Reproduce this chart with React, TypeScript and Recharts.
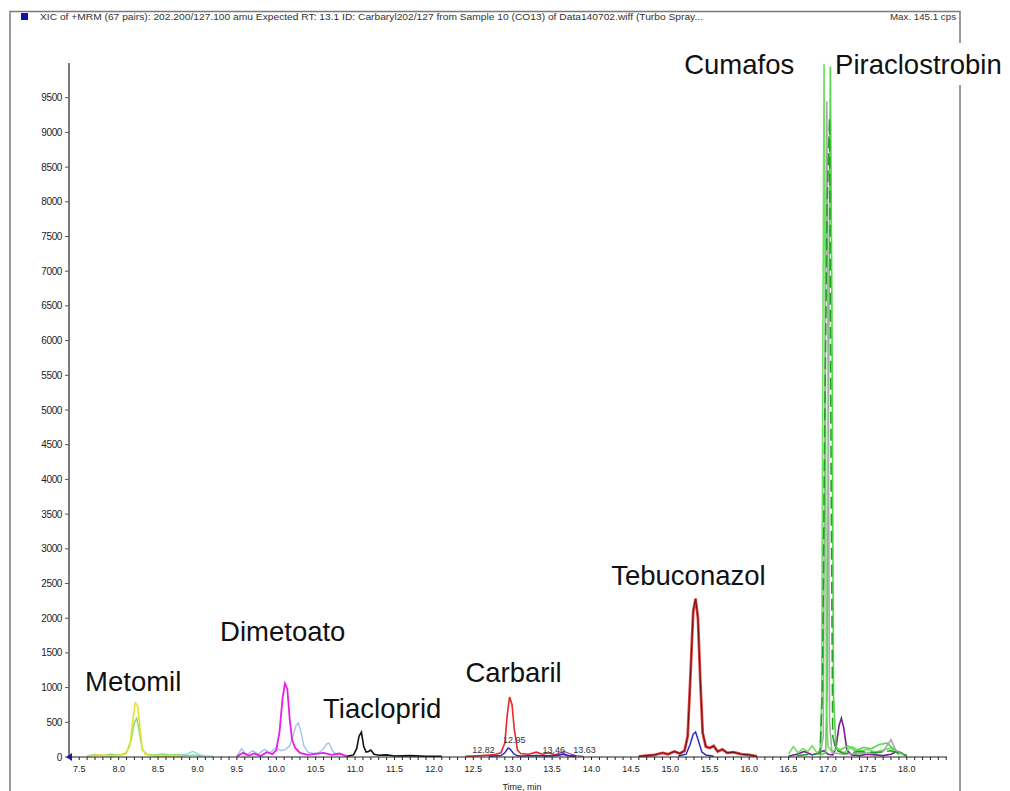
import React from "react";
import { LineChart, Line, XAxis, YAxis, ReferenceDot } from "recharts";

const FONT = '"Liberation Sans", Arial, sans-serif';

// ---- axis ticks ----
const yTicks = [0, 500, 1000, 1500, 2000, 2500, 3000, 3500, 4000, 4500, 5000, 5500, 6000, 6500, 7000, 7500, 8000, 8500, 9000, 9500];
const xTickLabels = [7.5, 8.0, 8.5, 9.0, 9.5, 10.0, 10.5, 11.0, 11.5, 12.0, 12.5, 13.0, 13.5, 14.0, 14.5, 15.0, 15.5, 16.0, 16.5, 17.0, 17.5, 18.0];
const xMinorTicks = Array.from({ length: 112 }, (_, i) => Math.round((7.4 + i * 0.1) * 10) / 10);

// ---- traces (time, min / intensity, cps) ----
const metomilGreenT = [7.6, 7.7, 7.8, 7.9, 8.0, 8.1, 8.16, 8.2, 8.23, 8.26, 8.3, 8.36, 8.45, 8.55, 8.65, 8.75, 8.85, 8.95, 9.05];
const metomilGreenV = [15, 35, 20, 40, 25, 60, 250, 500, 560, 380, 100, 40, 30, 45, 25, 35, 20, 30, 10];
const metomilYellowT = [7.6, 7.75, 7.9, 8.0, 8.08, 8.14, 8.18, 8.21, 8.24, 8.27, 8.3, 8.34, 8.4, 8.5, 8.65, 8.8];
const metomilYellowV = [10, 30, 15, 25, 40, 150, 520, 780, 740, 420, 120, 40, 25, 15, 20, 10];
const cyanT = [8.45, 8.55, 8.62, 8.7, 8.8, 8.87, 8.94, 8.98, 9.03, 9.1, 9.2];
const cyanV = [10, 25, 40, 20, 30, 45, 80, 60, 30, 15, 10];

const dimetoatoBlueT = [9.5, 9.56, 9.62, 9.7, 9.77, 9.85, 9.92, 10.0, 10.06, 10.12, 10.17, 10.21, 10.25, 10.28, 10.31, 10.35, 10.4, 10.47, 10.54, 10.6, 10.64, 10.67, 10.71, 10.78];
const dimetoatoBlueV = [10, 120, 30, 90, 40, 110, 60, 140, 90, 110, 160, 300, 450, 490, 380, 160, 70, 50, 60, 120, 190, 200, 90, 20];
const dimetoatoT = [9.5, 9.58, 9.65, 9.72, 9.8, 9.88, 9.95, 10.0, 10.04, 10.08, 10.11, 10.14, 10.17, 10.2, 10.24, 10.3, 10.4, 10.5, 10.6, 10.7, 10.8, 10.9];
const dimetoatoV = [10, 60, 20, 50, 15, 70, 40, 100, 350, 850, 1060, 980, 550, 250, 130, 60, 30, 45, 60, 30, 50, 10];

const tiaclopridT = [10.9, 10.98, 11.02, 11.05, 11.08, 11.11, 11.14, 11.17, 11.2, 11.24, 11.3, 11.4, 11.5, 11.7, 11.9, 12.1];
const tiaclopridV = [10, 30, 120, 300, 360, 150, 70, 80, 100, 40, 25, 30, 15, 20, 10, 10];

const carbarilT = [12.4, 12.6, 12.75, 12.85, 12.9, 12.93, 12.96, 12.99, 13.02, 13.06, 13.1, 13.2, 13.3, 13.38, 13.46, 13.55, 13.63, 13.7, 13.8];
const carbarilV = [10, 20, 30, 60, 200, 600, 865, 760, 400, 100, 50, 40, 70, 40, 60, 30, 40, 20, 10];
const carbarilBlueT = [12.7, 12.85, 12.9, 12.94, 12.97, 13.01, 13.05, 13.1, 13.3, 13.5, 13.6, 13.65, 13.7, 13.8];
const carbarilBlueV = [10, 20, 60, 130, 110, 50, 20, 15, 20, 15, 30, 45, 20, 10];
const purpleSmallT = [13.4, 13.55, 13.65, 13.72, 13.8, 13.9];
const purpleSmallV = [10, 40, 80, 50, 20, 10];

const tebuconazolT = [14.6, 14.8, 14.9, 14.97, 15.05, 15.12, 15.18, 15.22, 15.26, 15.29, 15.32, 15.35, 15.38, 15.41, 15.45, 15.5, 15.55, 15.6, 15.66, 15.72, 15.8, 15.9, 16.0, 16.1];
const tebuconazolV = [10, 30, 60, 40, 80, 50, 90, 300, 1300, 2100, 2280, 2000, 1100, 350, 150, 130, 160, 80, 110, 60, 70, 40, 30, 10];
const tebuconazolBlueT = [15.1, 15.2, 15.25, 15.29, 15.32, 15.36, 15.4, 15.45, 15.55];
const tebuconazolBlueV = [15, 40, 180, 330, 360, 220, 70, 30, 10];

const cumafosT = [16.5, 16.56, 16.62, 16.68, 16.74, 16.8, 16.86, 16.9, 16.92, 16.935, 16.95, 16.965, 16.98, 17.0, 17.05, 17.12, 17.2, 17.3, 17.4, 17.5, 17.6, 17.7, 17.8, 17.9, 18.0];
const cumafosV = [40, 150, 60, 120, 80, 160, 60, 100, 800, 6000, 9990, 6500, 700, 150, 80, 120, 60, 150, 90, 110, 70, 100, 130, 60, 20];
const piraclostrobinT = [16.9, 16.97, 16.99, 17.01, 17.03, 17.05, 17.07, 17.1, 17.15, 17.25, 17.35, 17.45, 17.55, 17.65, 17.75, 17.85, 17.95];
const piraclostrobinV = [30, 60, 1000, 6000, 9950, 6500, 900, 150, 100, 160, 90, 140, 120, 180, 200, 100, 30];
const grayT = [16.9, 16.94, 16.96, 16.985, 17.0, 17.02, 17.05, 17.2, 17.5, 17.7, 17.8, 17.85, 17.9];
const grayV = [20, 300, 5000, 9450, 6000, 500, 60, 40, 60, 80, 250, 120, 30];
const darkGreenT = [16.6, 16.8, 16.9, 16.93, 16.96, 16.99, 17.02, 17.04, 17.06, 17.1, 17.2, 17.4, 17.6, 17.8, 18.0];
const darkGreenV = [20, 40, 50, 1000, 5000, 8000, 9200, 4000, 300, 100, 50, 80, 60, 90, 20];
const purpleT = [16.5, 16.6, 16.7, 16.8, 16.88, 16.95, 17.0, 17.06, 17.1, 17.14, 17.17, 17.2, 17.24, 17.3, 17.4, 17.5, 17.6, 17.7, 17.8, 17.87, 17.93, 18.0];
const purpleV = [10, 40, 80, 30, 60, 90, 40, 30, 120, 450, 560, 420, 100, 30, 20, 40, 30, 20, 40, 80, 60, 10];

// ---- annotations (anchored in data space: time, intensity) ----
const compoundNames = ["Metomil", "Dimetoato", "Tiacloprid", "Carbaril", "Tebuconazol", "Cumafos", "Piraclostrobin"];
const compoundLabelT = [7.574, 9.287, 10.594, 12.40, 14.25, 15.175, 17.09];
const compoundLabelV = [951, 1671, 562, 1081, 2478, 9841, 9841];
const rtLabels = ["12.82", "12.95", "13.46", "13.63"];
const rtLabelT = [12.63, 13.02, 13.52, 13.91];
const rtLabelV = [60, 200, 60, 60];

const zip = (ts: number[], vs: number[]) => ts.map((t, i) => ({ t, v: vs[i] }));

const traces = [
  { key: "cyan", data: zip(cyanT, cyanV), color: "#7fdede", w: 1.3 },
  { key: "metGreen", data: zip(metomilGreenT, metomilGreenV), color: "#86dc70", w: 1.4 },
  { key: "metYellow", data: zip(metomilYellowT, metomilYellowV), color: "#e2e22a", w: 1.6 },
  { key: "dimBlue", data: zip(dimetoatoBlueT, dimetoatoBlueV), color: "#a4c2ee", w: 1.4 },
  { key: "dim", data: zip(dimetoatoT, dimetoatoV), color: "#e61ee6", w: 1.8 },
  { key: "tia", data: zip(tiaclopridT, tiaclopridV), color: "#111111", w: 1.6 },
  { key: "purpleSmall", data: zip(purpleSmallT, purpleSmallV), color: "#9a3aa8", w: 1.2 },
  { key: "carb", data: zip(carbarilT, carbarilV), color: "#ee2626", w: 1.6 },
  { key: "carbBlue", data: zip(carbarilBlueT, carbarilBlueV), color: "#2a2acc", w: 1.5 },
  { key: "tebuOuter", data: zip(tebuconazolT, tebuconazolV), color: "#dc4a4a", w: 2.8 },
  { key: "tebu", data: zip(tebuconazolT, tebuconazolV), color: "#7a1010", w: 1.1 },
  { key: "tebuBlue", data: zip(tebuconazolBlueT, tebuconazolBlueV), color: "#2a2acc", w: 1.5 },
  { key: "purple", data: zip(purpleT, purpleV), color: "#7a1f9a", w: 1.6 },
  { key: "cuma", data: zip(cumafosT, cumafosV), color: "#6fe060", w: 1.6 },
  { key: "pira", data: zip(piraclostrobinT, piraclostrobinV), color: "#55d84a", w: 1.6 },
  { key: "gray", data: zip(grayT, grayV), color: "#a8a8a8", w: 1.6 },
];

const W = 1002;
const H = 783;

export default function App() {
  return (
    <div style={{ position: "relative", width: W, height: H, fontFamily: FONT }}>
      <svg width={W} height={H} style={{ position: "absolute", left: 0, top: 0 }}>
        <rect x={2} y={3.5} width={950} height={820} fill="none" stroke="#7a7a7a" strokeWidth={1.5} />
        <rect x={13} y={5} width={7} height={7} fill="#1212b0" />
        <text x={32} y={11.7} fontSize={9} fontFamily={FONT} fill="#333" textLength={663} lengthAdjust="spacingAndGlyphs">
          XIC of +MRM (67 pairs): 202.200/127.100 amu Expected RT: 13.1 ID: Carbaryl202/127 from Sample 10 (CO13) of Data140702.wiff (Turbo Spray...
        </text>
        <text x={882} y={11.7} fontSize={9} fontFamily={FONT} fill="#333" textLength={66} lengthAdjust="spacingAndGlyphs">
          Max. 145.1 cps
        </text>
      </svg>
      <div style={{ position: "absolute", left: 0, top: 0 }}>
        <LineChart width={W} height={H} margin={{ top: 55, right: 63, bottom: 0, left: 0 }}>
          <XAxis
            type="number"
            dataKey="t"
            domain={[7.37, 18.51]}
            allowDataOverflow
            ticks={xMinorTicks}
            interval={0}
            height={34}
            tickSize={3}
            tickMargin={6}
            stroke="#222"
            axisLine={{ stroke: "#222", strokeWidth: 1.2 }}
            tickLine={{ stroke: "#222" }}
            tick={{ fontSize: 9, fill: "#222", fontFamily: FONT }}
            tickFormatter={(v: number) => (xTickLabels.some((l) => Math.abs(l - v) < 1e-6) ? v.toFixed(1) : "")}
            label={{
              content: (p: any) => {
                const vb = p.viewBox || {};
                return (
                  <text x={vb.x + vb.width / 2 + 14} y={vb.y + vb.height - 1} textAnchor="middle" fontSize={9} fontFamily={FONT} fill="#222">
                    Time, min
                  </text>
                );
              },
            }}
          />
          <YAxis
            type="number"
            domain={[0, 10000]}
            allowDataOverflow
            ticks={yTicks}
            interval={0}
            width={61}
            tickSize={4}
            tickMargin={3}
            axisLine={{ stroke: "#7a7a7a", strokeWidth: 2 }}
            tickLine={{ stroke: "#555" }}
            tick={{ fontSize: 10, fill: "#222", fontFamily: FONT, letterSpacing: -0.4 }}
          />
          {traces.map((tr) => (
            <Line
              key={tr.key}
              data={tr.data}
              dataKey="v"
              type="linear"
              stroke={tr.color}
              strokeWidth={tr.w}
              dot={false}
              activeDot={false}
              isAnimationActive={false}
            />
          ))}
          <Line
            data={zip(darkGreenT, darkGreenV)}
            dataKey="v"
            type="linear"
            stroke="#1ea41e"
            strokeWidth={1.6}
            strokeDasharray="12 5"
            dot={false}
            activeDot={false}
            isAnimationActive={false}
          />
          <ReferenceDot
            x={7.37}
            y={0}
            r={3}
            ifOverflow="visible"
            shape={(p: any) => <path d={`M${p.cx - 3},${p.cy} L${p.cx + 3},${p.cy - 4} L${p.cx + 3},${p.cy + 4} Z`} fill="#1a1aa8" />}
          />
          {rtLabels.map((s, i) => (
            <ReferenceDot
              key={s}
              x={rtLabelT[i]}
              y={rtLabelV[i]}
              r={1}
              ifOverflow="visible"
              shape={(p: any) => (
                <text x={p.cx} y={p.cy} textAnchor="middle" fontSize={9} fontFamily={FONT} fill="#333">
                  {s}
                </text>
              )}
            />
          ))}
          {compoundNames.map((name, i) => (
            <ReferenceDot
              key={name}
              x={compoundLabelT[i]}
              y={compoundLabelV[i]}
              r={1}
              ifOverflow="visible"
              shape={(p: any) => (
                <g>
                  {name === "Piraclostrobin" ? <rect x={p.cx} y={p.cy - 31} width={170} height={42} fill="#ffffff" /> : null}
                  <text x={p.cx} y={p.cy} fontSize={27.5} fontFamily={FONT} fill="#111">
                    {name}
                  </text>
                </g>
              )}
            />
          ))}
        </LineChart>
      </div>
    </div>
  );
}
